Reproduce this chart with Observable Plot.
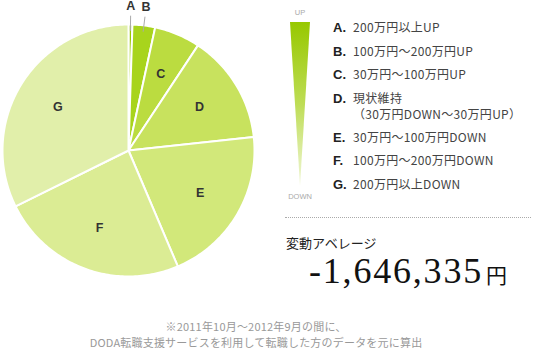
<!DOCTYPE html>
<html><head><meta charset="utf-8">
<script src="https://cdn.jsdelivr.net/npm/d3@7"></script>
<script src="https://cdn.jsdelivr.net/npm/@observablehq/plot@0.6"></script>
<style>
html,body{margin:0;padding:0;background:#fff;}
#wrap{position:relative;width:536px;height:352px;overflow:hidden;font-family:"Noto Sans CJK JP","Noto Sans",sans-serif;color:#444;}
#chart{position:absolute;left:0;top:0;}
#chart svg{overflow:visible;}
.leg{position:absolute;left:333px;font-size:12px;line-height:14px;height:14px;letter-spacing:0.3px;white-space:nowrap;}
.leg b{display:inline-block;width:20px;font-family:"Liberation Sans",Arial,sans-serif;font-weight:bold;font-size:13px;color:#222;letter-spacing:0;}
.leg span{display:inline-block;vertical-align:top;}
#avgl{position:absolute;left:286px;top:233px;font-size:13px;color:#222;}
#avg{position:absolute;left:309px;top:250px;font-family:"Liberation Serif","Times New Roman",serif;font-size:36px;letter-spacing:1.8px;color:#111;white-space:nowrap;}
#avg small{font-family:"Noto Sans CJK JP",sans-serif;font-size:21px;letter-spacing:0;margin-left:3px;}
#dots{position:absolute;left:285px;top:217px;width:246px;border-top:1px dotted #aaa;}
#cap{position:absolute;left:0;width:512px;top:318px;text-align:center;font-size:11px;line-height:16px;color:#999;letter-spacing:0.2px;}
#bar{position:absolute;left:280px;top:0;}
</style></head>
<body><div id="wrap"><div id="chart"></div>
<svg id="bar" width="40" height="205">
<defs><linearGradient id="g" x1="0" y1="0" x2="0" y2="1"><stop offset="0" stop-color="#97c800"/><stop offset="0.5" stop-color="#bedd55"/><stop offset="1" stop-color="#f1f7d8"/></linearGradient></defs>
<text x="20" y="15" text-anchor="middle" font-size="7.5" fill="#aaa" font-family="Liberation Sans,Arial,sans-serif">UP</text>
<polygon points="10,22 30,22 20,186" fill="url(#g)"/>
<text x="20" y="199" text-anchor="middle" font-size="7.5" fill="#aaa" font-family="Liberation Sans,Arial,sans-serif">DOWN</text>
</svg>
<div id="legend"></div>
<div id="dots"></div>
<div id="avgl">変動アベレージ</div>
<div id="avg"></div>
<div id="cap"></div>
</div>
<script>
const keys = ["A","B","C","D","E","F","G"];
const shares = [0.5, 2.9, 5.9, 14.0, 20.3, 24.1, 32.3];
const colors = ["#97c900","#a8d41c","#bbdc40","#c8e25e","#d2e87a","#dbec94","#e1efaa"];
const labels = [["200万円以上UP"],["100万円～200万円UP"],["30万円～100万円UP"],["現状維持","（30万円DOWN～30万円UP）"],["30万円～100万円DOWN"],["100万円～200万円DOWN"],["200万円以上DOWN"]];
const legendTops = [20,44,67,91,130,153,177];
const average = -1646335;
const captionLines = ["※2011年10月～2012年9月の間に、","DODA転職支援サービスを利用して転職した方のデータを元に算出"];

const total = d3.sum(shares);
const pie = d3.pie().sort(null).value(d => d)(shares);
const poly = [];
const labs = [];
const leaders = [];
pie.forEach((p, i) => {
  const k = keys[i];
  poly.push({key: k, color: colors[i], x: 0, y: 0});
  const n = Math.max(4, Math.ceil((p.endAngle - p.startAngle) * 60));
  for (let j = 0; j <= n; j++) {
    const a = p.startAngle + (p.endAngle - p.startAngle) * j / n;
    poly.push({key: k, color: colors[i], x: Math.sin(a), y: Math.cos(a)});
  }
  const m = (p.startAngle + p.endAngle) / 2;
  const outside = shares[i] / total < 0.04;
  const r = outside ? 1.145 : 0.66;
  labs.push({key: k, x: Math.sin(m) * r, y: Math.cos(m) * r});
  if (outside) leaders.push({x1: Math.sin(m)*0.95, y1: Math.cos(m)*0.95, x2: Math.sin(m)*1.07, y2: Math.cos(m)*1.07});
});

const R = 126;
const W = 256, H = 300;
const chart = Plot.plot({
  width: W, height: H, margin: 0,
  x: {domain: [-W/2/R, W/2/R], axis: null},
  y: {domain: [-H/2/R, H/2/R], axis: null},
  marks: [
    Plot.line(poly, {x: "x", y: "y", z: "key", fill: "color", stroke: "white", strokeWidth: 2, curve: "linear-closed"}),
    Plot.link(leaders, {x1: "x1", y1: "y1", x2: "x2", y2: "y2", stroke: "#aaa", strokeWidth: 1}),
    Plot.text(labs, {x: "x", y: "y", text: "key", fontSize: 12.5, fontWeight: "bold", fill: "#333", fontFamily: "Liberation Sans, Arial, sans-serif"})
  ]
});
document.getElementById("chart").appendChild(chart);

const leg = document.getElementById("legend");
keys.forEach((k, i) => {
  labels[i].forEach((line, j) => {
    const d = document.createElement("div");
    d.className = "leg";
    d.style.top = (legendTops[i] + j * 16) + "px";
    d.innerHTML = `<b>${j === 0 ? k + "." : ""}</b><span>${line}</span>`;
    leg.appendChild(d);
  });
});
document.getElementById("avg").innerHTML = d3.format(",")(average).replace("−","-") + "<small>円</small>";
document.getElementById("cap").innerHTML = captionLines.join("<br>");
</script>
</body></html>
